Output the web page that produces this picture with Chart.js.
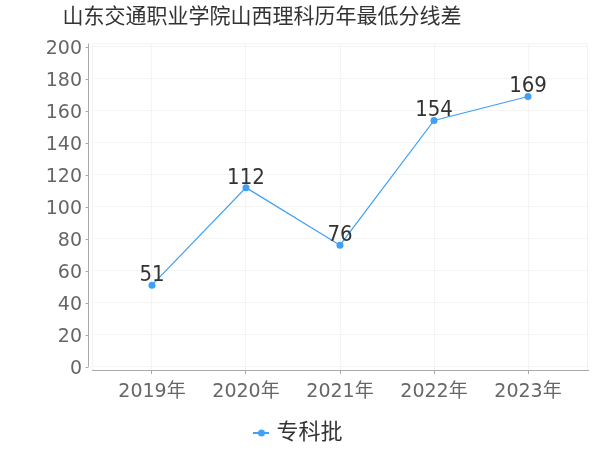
<!DOCTYPE html>
<html><head><meta charset="utf-8">
<script src="https://cdn.jsdelivr.net/npm/chart.js@4"></script>
<style>html,body{margin:0;padding:0;background:#fff}#wrap{width:600px;height:450px}</style>
</head><body><div id="wrap"><canvas id="c" width="600" height="450"></canvas></div>
<script>
const title = '山东交通职业学院山西理科历年最低分线差';
const categories = ['2019年','2020年','2021年','2022年','2023年'];
const seriesName = '专科批';
const values = [51, 112, 76, 154, 169];
const yTicks = [0,20,40,60,80,100,120,140,160,180,200];

const FONT = "'DejaVu Sans','Noto Sans CJK SC',sans-serif";
const LFONT = "'DejaVu Sans Condensed','DejaVu Sans','Noto Sans CJK SC',sans-serif";
const LINE = '#3ea0f7';

// legend marker: line with dot
const mk = document.createElement('canvas');
mk.width = 16; mk.height = 8;
(function(){const g=mk.getContext('2d');g.strokeStyle=LINE;g.lineWidth=2;g.beginPath();g.moveTo(0,4);g.lineTo(16,4);g.stroke();g.fillStyle=LINE;g.beginPath();g.arc(8,4,3.5,0,Math.PI*2);g.fill();})();

const frame = {
  id:'frame',
  beforeDatasetsDraw(chart){
    const {ctx, chartArea:a} = chart;
    ctx.save();
    ctx.strokeStyle = '#f2f2f2'; ctx.lineWidth = 1;
    ctx.beginPath();
    ctx.moveTo(a.left+0.5, a.top+0.5); ctx.lineTo(a.right-0.5, a.top+0.5); ctx.lineTo(a.right-0.5, a.bottom);
    ctx.moveTo(a.left+0.5, a.top); ctx.lineTo(a.left+0.5, a.bottom);
    ctx.stroke();
    const y = chart.scales.y;
    const x0 = a.left - 3.5;
    ctx.strokeStyle = '#aaaaaa';
    ctx.beginPath();
    ctx.moveTo(x0, a.top); ctx.lineTo(x0, y.getPixelForValue(0));
    y.ticks.forEach(t=>{const py=Math.round(y.getPixelForValue(t.value))+0.5;ctx.moveTo(x0-3,py);ctx.lineTo(x0,py);});
    ctx.stroke();
    ctx.restore();
  },
  afterDraw(chart){
    const {ctx} = chart;
    const meta = chart.getDatasetMeta(0);
    ctx.save();
    ctx.font = '22px ' + LFONT; ctx.fillStyle = '#333'; ctx.textAlign='center'; ctx.textBaseline='alphabetic';
    meta.data.forEach((p,i)=>{ctx.fillText(String(values[i]), p.x, p.y-4);});
    ctx.font = '21px ' + FONT; ctx.fillStyle = '#333'; ctx.textBaseline='middle';
    ctx.fillText(title, 262, 18);
    ctx.restore();
  }
};

new Chart(document.getElementById('c'), {
  type:'line',
  data:{datasets:[{
    label: seriesName,
    data: values.map((v,i)=>({x:i,y:v})),
    borderColor: LINE, backgroundColor: LINE, borderWidth: 1.2,
    pointRadius: 3.5, pointHoverRadius: 3.5, pointBackgroundColor: LINE, pointBorderWidth: 0,
    pointStyle: 'circle', tension: 0
  }]},
  options:{
    responsive:false, animation:false, devicePixelRatio:1,
    layout:{padding:{left:12,right:12,top:43.4,bottom:-4}},
    plugins:{
      title:{display:false},
      legend:{position:'bottom', labels:{usePointStyle:true, pointStyle:mk, pointStyleWidth:8, color:'#333', font:{family:FONT,size:22}, padding:10}},
      tooltip:{enabled:false}
    },
    scales:{
      x:{type:'linear', min:-0.638, max:4.638,
        afterBuildTicks(s){s.ticks = categories.map((c,i)=>({value:i}));},
        afterFit(s){s.height = 42;},
        ticks:{callback:(v)=>categories[v], color:'#666', font:{family:FONT,size:19}, padding:7, maxRotation:0, autoSkip:false},
        grid:{color:'#f4f4f4', tickColor:'#aaaaaa', tickLength:4, drawTicks:true},
        border:{display:true, color:'#aaaaaa'}
      },
      y:{type:'linear', min:-2.05, max:202.2,
        afterBuildTicks(s){s.ticks = yTicks.map(v=>({value:v}));},
        afterFit(s){s.width = 80;},
        ticks:{color:'#666', font:{family:FONT,size:19}, padding:10, labelOffset:2},
        grid:{color:'#f4f4f4', drawTicks:false},
        border:{display:false}
      }
    }
  },
  plugins:[frame]
});
</script></body></html>
